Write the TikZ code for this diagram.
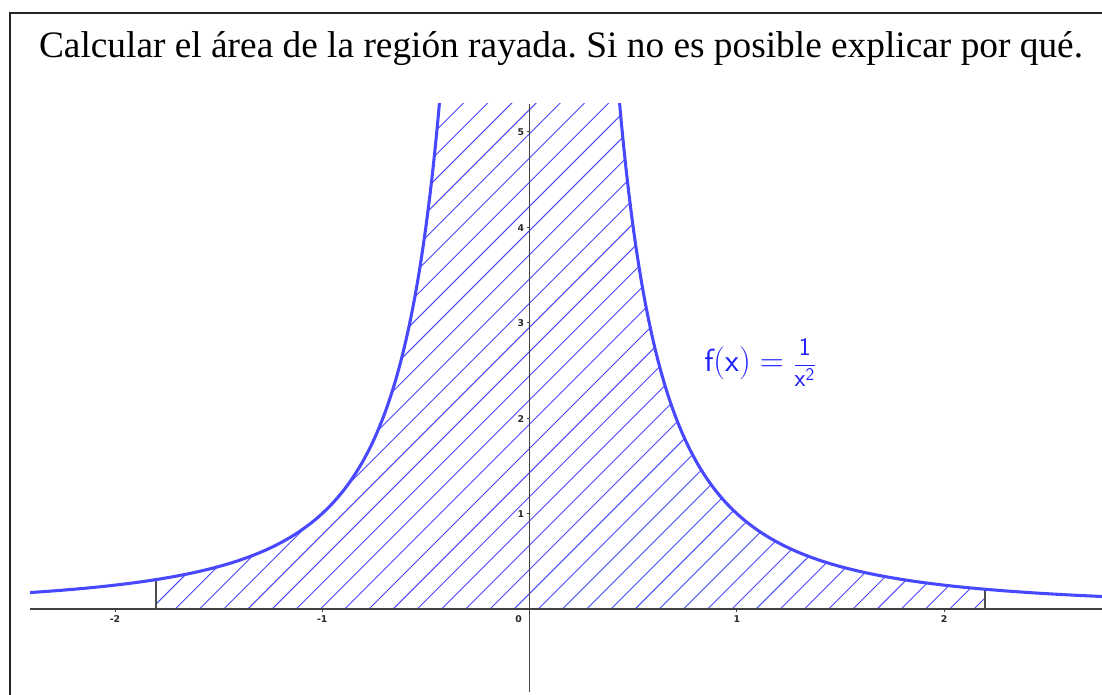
\documentclass[tikz,border=0pt]{standalone}
\usepackage{fontspec}
\setmainfont{Liberation Serif}
\newfontfamily\tickfont{DejaVu Sans}
\frenchspacing
\begin{document}
\begin{tikzpicture}[x=0.75pt,y=-0.75pt,
  declare function={px(\t)=529.5+207.25*\t; py(\t)=609-95.5*\t;},
  frame/.style={draw=black!85,line width=1.5pt},
  axisline/.style={draw=black!75,line width=0.9pt},
  curve/.style={draw=geoblue,line width=2.3pt},
  hatch/.style={draw=geoblue,line width=0.7pt},
  bound/.style={draw=black!70,line width=1.5pt},
  ticklbl/.style={font=\tickfont\bfseries\fontsize{7}{8}\selectfont,text=black!85,inner sep=0pt},
  title/.style={font=\fontsize{28}{32}\selectfont,inner sep=0pt,anchor=base}]
\definecolor{geoblue}{RGB}{72,72,255}
\definecolor{lblblue}{RGB}{30,30,255}
\useasboundingbox (0,0) rectangle (1102,695);
% frame
\coordinate (fbl) at (10,696);
\coordinate (ftl) at (10,13);
\coordinate (ftr) at (1103,13);
\draw[frame] (fbl) -- (ftl) -- (ftr);
% title
\node[title] (title) at (561,58) {Calcular el área de la región rayada. Si no es posible explicar por qué.};
% hatching
\begin{scope}
  \clip (30,104) rectangle (1102,695);
  \clip plot[domain=-1.8:-0.4,samples=120] ({px(\x)},{py(1/(\x*\x))})
        -- plot[domain=0.4:2.2,samples=120] ({px(\x)},{py(1/(\x*\x))})
        -- ({px(2.2)},{py(0)}) -- ({px(-1.8)},{py(0)}) -- cycle;
  \foreach \k in {-37,...,19}{
    \draw[hatch] ({538.3+24.2*\k-600},{609+600}) -- ({538.3+24.2*\k+600},{609-600});
  }
\end{scope}
% axes
\coordinate (xl) at (30,609);
\coordinate (xr) at (1103,609);
\coordinate (yt) at (529.5,104);
\coordinate (yb) at (529.5,692);
\draw[axisline] (xl) -- (xr);
\draw[axisline] (yt) -- (yb);
% ticks
\foreach \v/\l in {-2/-2,-1/-1,1/1,2/2}{
  \draw[axisline,line width=0.6pt] ({px(\v)},609) -- ({px(\v)},612);
  \node[ticklbl] (xt\v) at ({px(\v)},619) {\l};
}
\node[ticklbl] (xt0) at (518.5,619) {0};
\foreach \v in {1,...,5}{
  \draw[axisline,line width=0.6pt] (529.5,{py(\v)}) -- (526.5,{py(\v)});
  \node[ticklbl,anchor=east] (yt\v) at (524.5,{py(\v)+1}) {\v};
}
% bounds
\coordinate (b1a) at ({px(-1.8)},{py(0)});
\coordinate (b1b) at ({px(-1.8)},{py(1/3.24)});
\coordinate (b2a) at ({px(2.2)},{py(0)});
\coordinate (b2b) at ({px(2.2)},{py(1/4.84)});
\draw[bound] (b1a) -- (b1b);
\draw[bound] (b2a) -- (b2b);
% curve
\begin{scope}
  \clip (30,104) rectangle (1102,695);
  \draw[curve] plot[domain=-2.41:-0.42,samples=200] ({px(\x)},{py(1/(\x*\x))});
  \draw[curve] plot[domain=0.42:2.77,samples=200] ({px(\x)},{py(1/(\x*\x))});
\end{scope}
% label
\node[text=lblblue,anchor=base west,inner sep=0pt,font=\fontsize{24}{28}\selectfont] (flbl) at (704,371)
  {$\mathsf{f(x)} = \mbox{\fontsize{19}{22}\selectfont$\displaystyle\frac{\mathsf{1}}{\mathsf{x}^{\mathsf{2}}}$}$};
\end{tikzpicture}
\end{document}
